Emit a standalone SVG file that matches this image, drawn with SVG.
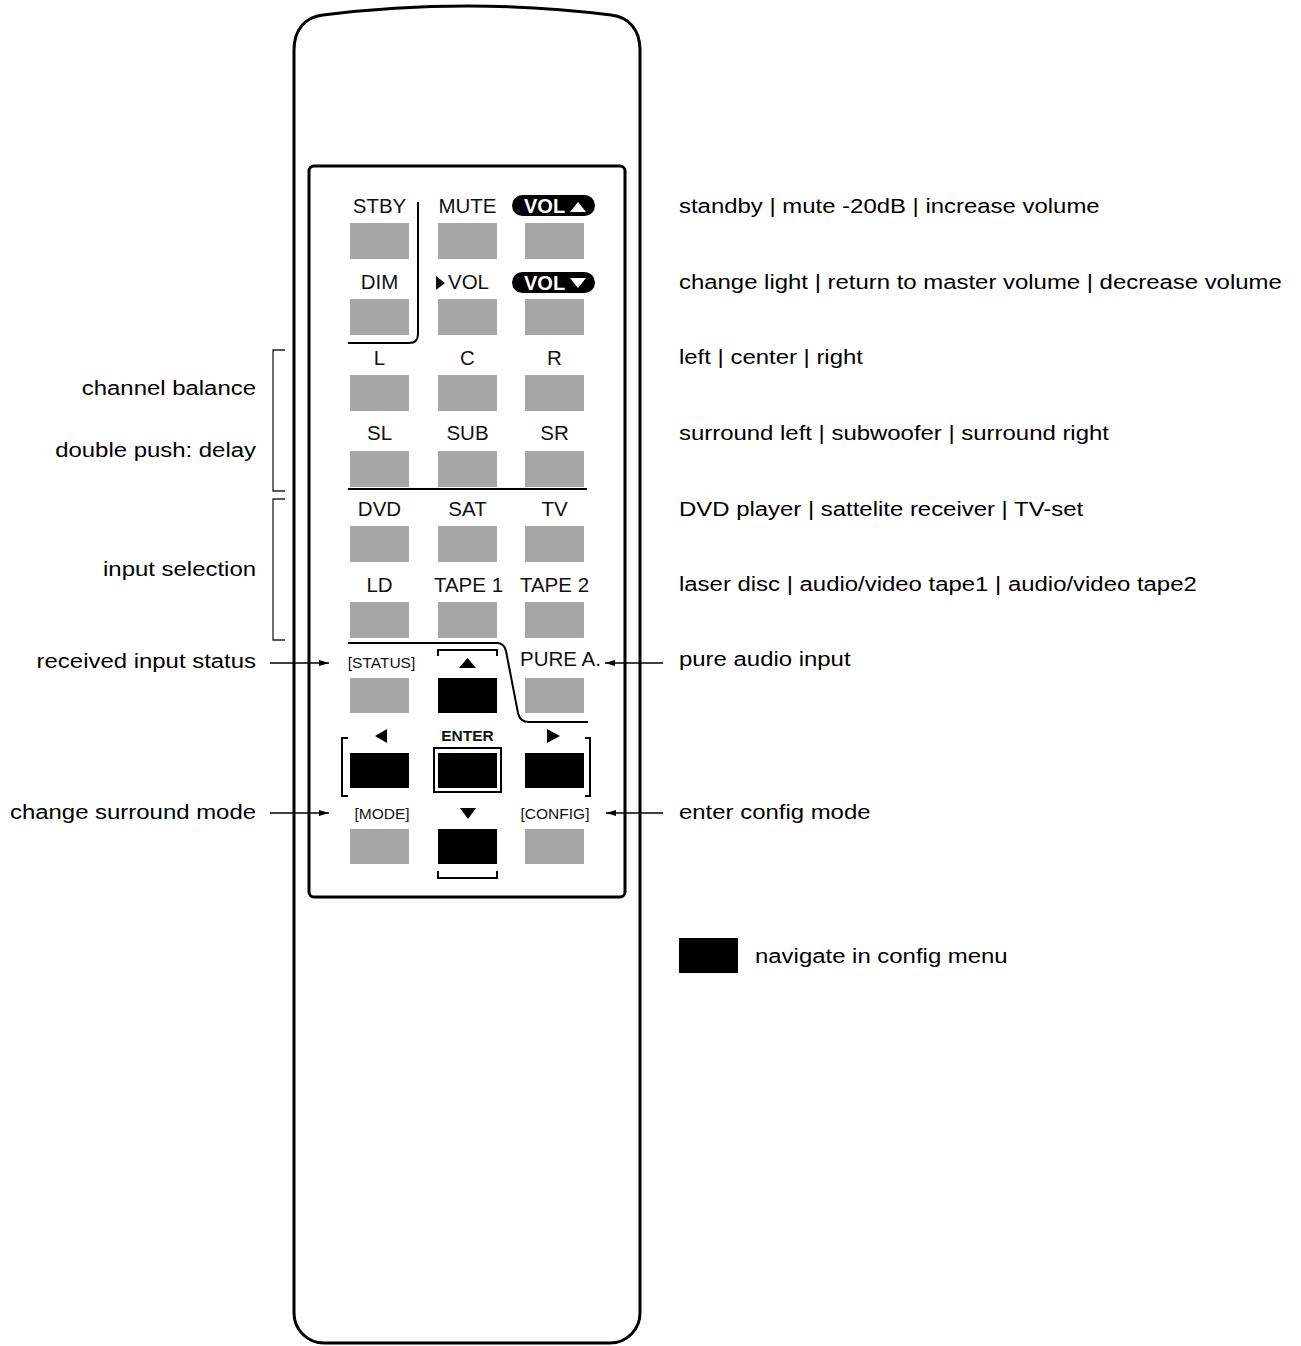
<svg xmlns="http://www.w3.org/2000/svg" width="1301" height="1346" viewBox="0 0 1301 1346">
<style>
  text { font-family: "Liberation Sans", Arial, sans-serif; fill: #000; }
  .desc { font-size: 21px; }
  .lbl { font-size: 20.5px; fill: #111; text-anchor: middle; }
  .sm { font-size: 15.5px; fill: #111; text-anchor: middle; }
  .g { fill: #a6a6a6; }
  .k { fill: #000; }
  .ln { fill: none; stroke: #000; stroke-width: 2; }
  .thin { fill: none; stroke: #222; stroke-width: 1.3; }
  .conn { stroke: #000; stroke-width: 1.3; fill: none; marker-end: url(#ah); }
</style>
<defs>
  <marker id="ah" viewBox="0 0 10 6" refX="10" refY="3" markerWidth="10" markerHeight="6" markerUnits="userSpaceOnUse" orient="auto">
    <path d="M0,0 L10,3 L0,6 Z" fill="#000"/>
  </marker>
</defs>
<rect width="1301" height="1346" fill="#fff"/>

<g id="remote-body">
  <path d="M294,1313 V50 C294,30 305,17 323,15 Q467,-3 611,15 C629,17 640,30 640,50 V1313 A30,30 0 0 1 610,1343 H324 A30,30 0 0 1 294,1313 Z" fill="#fff" stroke="#000" stroke-width="3"/>
</g>
<g id="panel">
  <rect x="309" y="166" width="316" height="731" rx="5" fill="#fff" stroke="#000" stroke-width="3"/>
  <path class="ln" d="M418,202 V334 Q418,343 409,343 H348"/>
  <path class="ln" d="M348,489 H587"/>
  <path class="ln" d="M348,643 H497 Q504,643 506,651 L518,713 Q520,722 529,722 H588"/>
  <path class="ln" d="M438,656 V650 H497 V656"/>
  <path class="ln" d="M348,738 H342 V796 H348"/>
  <path class="ln" d="M585,738 H590 V796 H585"/>
  <path class="ln" d="M438,871 V878 H497 V871"/>
</g>

<g id="btn-stby"><text class="lbl" x="379.5" y="213">STBY</text><rect class="g" x="350" y="223" width="59" height="36"/></g>
<g id="btn-mute"><text class="lbl" x="467.5" y="213">MUTE</text><rect class="g" x="438" y="223" width="59" height="36"/></g>
<g id="btn-volup"><rect x="512" y="195" width="83" height="21" rx="10.5" fill="#000"/><text x="524" y="213" font-size="20" font-weight="bold" style="fill:#fff">VOL</text><path d="M570,212 L586,212 L578,202 Z" fill="#fff"/><rect class="g" x="525" y="223" width="59" height="36"/></g>

<g id="btn-dim"><text class="lbl" x="379.5" y="289">DIM</text><rect class="g" x="350" y="299" width="59" height="36"/></g>
<g id="btn-vol"><path d="M436,276 L436,290 L445,283 Z" fill="#111"/><text x="448" y="289" font-size="20.5" style="fill:#111">VOL</text><rect class="g" x="438" y="299" width="59" height="36"/></g>
<g id="btn-voldown"><rect x="512" y="272" width="83" height="21" rx="10.5" fill="#000"/><text x="524" y="289.5" font-size="20" font-weight="bold" style="fill:#fff">VOL</text><path d="M570,278 L586,278 L578,288 Z" fill="#fff"/><rect class="g" x="525" y="299" width="59" height="36"/></g>

<g id="btn-l"><text class="lbl" x="379.5" y="365">L</text><rect class="g" x="350" y="375" width="59" height="36"/></g>
<g id="btn-c"><text class="lbl" x="467.5" y="365">C</text><rect class="g" x="438" y="375" width="59" height="36"/></g>
<g id="btn-r"><text class="lbl" x="554.5" y="365">R</text><rect class="g" x="525" y="375" width="59" height="36"/></g>

<g id="btn-sl"><text class="lbl" x="379.5" y="440">SL</text><rect class="g" x="350" y="451" width="59" height="36"/></g>
<g id="btn-sub"><text class="lbl" x="467.5" y="440">SUB</text><rect class="g" x="438" y="451" width="59" height="36"/></g>
<g id="btn-sr"><text class="lbl" x="554.5" y="440">SR</text><rect class="g" x="525" y="451" width="59" height="36"/></g>

<g id="btn-dvd"><text class="lbl" x="379.5" y="516">DVD</text><rect class="g" x="350" y="526" width="59" height="36"/></g>
<g id="btn-sat"><text class="lbl" x="467.5" y="516">SAT</text><rect class="g" x="438" y="526" width="59" height="36"/></g>
<g id="btn-tv"><text class="lbl" x="554.5" y="516">TV</text><rect class="g" x="525" y="526" width="59" height="36"/></g>

<g id="btn-ld"><text class="lbl" x="379.5" y="592">LD</text><rect class="g" x="350" y="602" width="59" height="36"/></g>
<g id="btn-tape1"><text class="lbl" x="468.5" y="592">TAPE 1</text><rect class="g" x="438" y="602" width="59" height="36"/></g>
<g id="btn-tape2"><text class="lbl" x="554.5" y="592">TAPE 2</text><rect class="g" x="525" y="602" width="59" height="36"/></g>

<g id="btn-status"><text class="sm" x="381.5" y="668">[STATUS]</text><rect class="g" x="350" y="678" width="59" height="35"/></g>
<g id="btn-up"><path d="M459,668 L476,668 L467.5,658 Z" fill="#000"/><rect class="k" x="438" y="678" width="59" height="35"/></g>
<g id="btn-pure"><text class="lbl" x="560.5" y="666">PURE A.</text><rect class="g" x="525" y="678" width="59" height="35"/></g>

<g id="btn-left"><path d="M375,736 L387,729 L387,743 Z" fill="#000"/><rect class="k" x="350" y="753" width="59" height="35"/></g>
<g id="btn-enter"><text class="sm" x="467.5" y="741" font-size="15" font-weight="bold">ENTER</text><rect x="434" y="748" width="67" height="44" fill="#fff" stroke="#000" stroke-width="2"/><rect class="k" x="438" y="753" width="59" height="35"/></g>
<g id="btn-right"><path d="M547,729 L547,743 L560,736 Z" fill="#000"/><rect class="k" x="525" y="753" width="59" height="35"/></g>

<g id="btn-mode"><text class="sm" x="382" y="819">[MODE]</text><rect class="g" x="350" y="829" width="59" height="35"/></g>
<g id="btn-down"><path d="M460,808 L476,808 L468,819 Z" fill="#000"/><rect class="k" x="438" y="829" width="59" height="35"/></g>
<g id="btn-config"><text class="sm" x="555" y="819">[CONFIG]</text><rect class="g" x="525" y="829" width="59" height="35"/></g>

<g id="brackets">
  <path class="thin" d="M285,350 H273 V491 H285"/>
  <path class="thin" d="M285,499 H273 V640 H285"/>
</g>

<g id="left-labels">
  <text class="desc" text-anchor="end" transform="translate(256,395) scale(1.14,1)">channel balance</text>
  <text class="desc" text-anchor="end" transform="translate(256,457) scale(1.14,1)">double push: delay</text>
  <text class="desc" text-anchor="end" transform="translate(256,576) scale(1.14,1)">input selection</text>
  <text class="desc" text-anchor="end" transform="translate(256,668) scale(1.14,1)">received input status</text>
  <text class="desc" text-anchor="end" transform="translate(256,819) scale(1.14,1)">change surround mode</text>
</g>

<g id="right-labels">
  <text class="desc" transform="translate(679,213) scale(1.14,1)">standby | mute -20dB | increase volume</text>
  <text class="desc" transform="translate(679,289) scale(1.14,1)">change light | return to master volume | decrease volume</text>
  <text class="desc" transform="translate(679,364) scale(1.14,1)">left | center | right</text>
  <text class="desc" transform="translate(679,440) scale(1.14,1)">surround left | subwoofer | surround right</text>
  <text class="desc" transform="translate(679,516) scale(1.14,1)">DVD player | sattelite receiver | TV-set</text>
  <text class="desc" transform="translate(679,591) scale(1.14,1)">laser disc | audio/video tape1 | audio/video tape2</text>
  <text class="desc" transform="translate(679,666) scale(1.14,1)">pure audio input</text>
  <text class="desc" transform="translate(679,819) scale(1.14,1)">enter config mode</text>
</g>

<g id="legend">
  <rect class="k" x="679" y="938" width="59" height="35"/>
  <text class="desc" transform="translate(755,963) scale(1.14,1)">navigate in config menu</text>
</g>

<g id="connectors">
  <line class="conn" x1="270" y1="663" x2="329" y2="663"/>
  <line class="conn" x1="663" y1="663" x2="605" y2="663"/>
  <line class="conn" x1="270" y1="813" x2="329" y2="813"/>
  <line class="conn" x1="663" y1="813" x2="606" y2="813"/>
</g>
</svg>
